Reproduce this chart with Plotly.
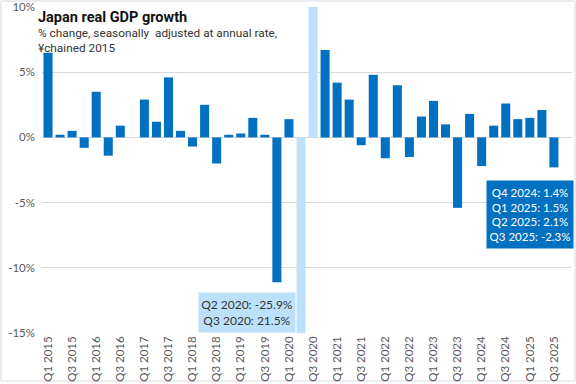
import plotly.graph_objects as go

quarters = [f"Q{q} {y}" for y in range(2015, 2026) for q in range(1, 5)][:43]
growth = [6.5, 0.2, 0.5, -0.8, 3.5, -1.4, 0.9, 0.0,
          2.9, 1.2, 4.6, 0.5, -0.7, 2.5, -2.0, 0.2,
          0.3, 1.5, 0.2, -11.1, 1.4, -25.9, 21.5, 6.7,
          4.2, 2.9, -0.6, 4.8, -1.6, 4.0, -1.5, 1.6,
          2.8, 1.0, -5.4, 1.8, -2.2, 0.9, 2.6, 1.4,
          1.5, 2.1, -2.3]
highlight = ["Q2 2020", "Q3 2020"]
y_ticks = [10, 5, 0, -5, -10, -15]
y_tick_text = ["10%", "5%", "0%", "-5%", "-10%", "-15%"]

x_idx = list(range(len(quarters)))
colors = ["#BDE1FB" if q in highlight else "#0070C0" for q in quarters]
tick_idx = x_idx[::2]
tick_text = quarters[::2]

fig = go.Figure()
fig.add_trace(go.Bar(x=x_idx, y=growth, marker=dict(color=colors, line=dict(width=0)),
                     width=0.75, cliponaxis=True, hoverinfo="skip"))

font_tick = dict(family="Lato", size=11.5, color="#595959")
fig.update_layout(
    width=576, height=384,
    margin=dict(l=42, r=4, t=7, b=51),
    paper_bgcolor="white", plot_bgcolor="white",
    showlegend=False,
    xaxis=dict(range=[-0.5, 43.5], tickvals=tick_idx, ticktext=tick_text, tickangle=-90,
               showgrid=False, zeroline=False, showline=False, ticks="", tickfont=font_tick,
               automargin=False),
    yaxis=dict(range=[-15, 10], tickvals=y_ticks, ticktext=y_tick_text, showgrid=True,
               gridcolor="#D9D9D9", gridwidth=1, zeroline=True, zerolinecolor="#D9D9D9",
               zerolinewidth=1, showline=False, ticks="", tickfont=font_tick, ticklabelstandoff=6,
               automargin=False),
)

fig.add_shape(type="rect", xref="paper", yref="paper",
              x0=(1 - 42) / 530, x1=(575 - 42) / 530, y0=(333 - 381) / 326, y1=(333 - 1) / 326,
              line=dict(color="#D9D9D9", width=1), fillcolor="rgba(0,0,0,0)", layer="below")

fig.add_annotation(xref="paper", yref="paper", x=(36 - 42) / 530, y=(333 - 7) / 326,
                   xanchor="left", yanchor="top", showarrow=False, align="left",
                   text="<b>Japan real GDP growth</b>",
                   font=dict(family="Roboto", size=14.5, color="#111111"))
fig.add_annotation(xref="paper", yref="paper", x=(36 - 42) / 530, y=(333 - 24) / 326,
                   xanchor="left", yanchor="top", showarrow=False, align="left",
                   text="% change, seasonally  adjusted at annual rate,<br>¥chained 2015",
                   font=dict(family="Roboto", size=11.8, color="#333333"))

i2 = quarters.index("Q2 2020")
i3 = quarters.index("Q3 2020")
fig.add_annotation(x=16.5, y=-13.45, xref="x", yref="y", showarrow=False,
                   width=96, height=39, borderpad=0, bgcolor="#BDE1FB",
                   text=f"{quarters[i2]}: {growth[i2]}%<br>{quarters[i3]}: {growth[i3]}%",
                   font=dict(family="Lato", size=12, color="#333333"), align="center")

last = quarters[-4:]
lastv = growth[-4:]
fig.add_annotation(x=40.0, y=-5.94, xref="x", yref="y", showarrow=False,
                   width=86, height=67, borderpad=0, bgcolor="#0070C0",
                   text="<br>".join(f"{q}: {v}%" for q, v in zip(last, lastv)),
                   font=dict(family="Lato", size=11.5, color="white"), align="center")

fig.write_html("out.html", config={"displayModeBar": False},
               post_script="document.body.style.margin='0px';")
